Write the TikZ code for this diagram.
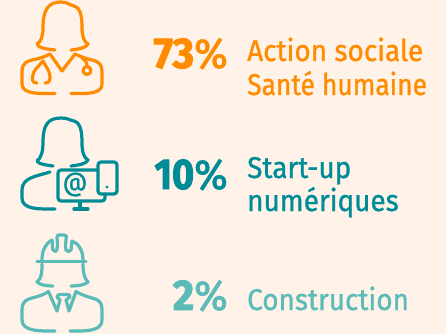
\documentclass[tikz,border=0pt]{standalone}
\usepackage{fontspec}
\newfontfamily\lab[FakeStretch=0.93,FakeBold=1.0]{Fira Sans}
\newfontfamily\labn[FakeStretch=0.88,FakeBold=1.0]{Fira Sans}
\newfontfamily\num[FakeStretch=0.96,FakeBold=2.2]{Fira Sans Bold}
\newfontfamily\numn[FakeStretch=0.88,FakeBold=2.2]{Fira Sans Bold}
\newfontfamily\pc[FakeStretch=0.97,FakeBold=1.6]{Fira Sans}
\newcommand{\bignum}[2]{{\fontsize{43}{43}\selectfont#1 #2}{\fontsize{42}{42}\selectfont\pc\%}}
\definecolor{bg}{HTML}{FFF2E9}
\definecolor{cA}{HTML}{FF8C00}
\definecolor{cB}{HTML}{008C96}
\definecolor{cC}{HTML}{5ABBB7}
\tikzset{
 icon/.style={line width=3.2pt,line cap=round,line join=round},
 big/.style={anchor=base east,inner sep=0pt},
 txt/.style={anchor=base west,inner sep=0pt,font=\fontsize{30}{30}\selectfont\lab}
}
\begin{document}
\begin{tikzpicture}[x=1pt,y=-1pt]
\useasboundingbox (0,0) rectangle (446,334);
\fill[bg] (0,0) rectangle (446,334);
% icon 1
\begin{scope}[icon,draw=cA,color=cA]
\draw (55,50) .. controls (46,49) and (38,48) .. (37,44) .. controls (41,42) and (43,36) .. (43,28)
 .. controls (43,10) and (48,2) .. (61,2) .. controls (68,2) and (69,5) .. (74,6) .. controls (81,8) and (82,18) .. (82,28)
 .. controls (82,36) and (84,42) .. (88,44) .. controls (86,48) and (79,49) .. (71,50);
\draw (55,93.5) .. controls (42,93.5) and (22,95) .. (22,84) -- (22,72) .. controls (22,62) and (28,61) .. (34,59.5) .. controls (42,58) and (46,56) .. (50,54)
 -- (62,71) -- (75,54) .. controls (79,56) and (84,58) .. (92,60) .. controls (100,62) and (102,65) .. (102,72) -- (102,84) .. controls (102,95) and (84,93.5) .. (71,93.5);
\draw (43,61) .. controls (38,67) and (33,70) .. (32.5,77) .. controls (32,81) and (33,83) .. (37,83);
\draw (43,61) .. controls (46,67) and (50,71) .. (50,77) .. controls (50,81) and (49,83) .. (45,83);
\draw (82,58) .. controls (85,60) and (87,62) .. (87,66);
\draw (87,70.5) circle (4);
\end{scope}
% icon 2
\begin{scope}[icon,draw=cB,color=cB]
\draw (53,166) .. controls (46,165) and (38,164) .. (37,161) .. controls (41,158) and (43,152) .. (43,142)
 .. controls (43,125) and (48,118) .. (61,118) .. controls (68,118) and (69,120) .. (74,121) .. controls (81,123) and (82,133) .. (82,143)
 .. controls (82,152) and (84,158) .. (88,160) .. controls (86,164) and (79,165) .. (71,166);
\draw (50,172) .. controls (38,176) and (22,177) .. (22,190) -- (22,198) .. controls (22,210) and (40,209) .. (55,209);
\draw[rounded corners=3] (97,170) -- (58,170) -- (58,201) -- (105,201) -- (105,194);
\draw[rounded corners=3] (98,162) rectangle (117,194);
\fill (107,187) circle (1.7);
\draw (80,202) -- (80,209);
\draw (74,209) -- (88,209);
\node[inner sep=0pt,font=\fontsize{26}{26}\selectfont\lab] (at) at (75,184.5) {@};
\end{scope}
% icon 3
\begin{scope}[icon,draw=cC,color=cC]
\draw (37,261.5) -- (86,261.5);
\draw (42,260) .. controls (42,251) and (45,244) .. (52,240) .. controls (53,244) and (52,248) .. (53,250) .. controls (54,252) and (57,252) .. (57,249)
 .. controls (58,245) and (57,240) .. (57,237) .. controls (57,235) and (58,235) .. (60,235) -- (64,235) .. controls (66,235) and (67,236) .. (66,239)
 .. controls (66,243) and (65,246) .. (66,250) .. controls (67,252) and (70,252) .. (71,250) .. controls (72,247) and (71,244) .. (72,241)
 .. controls (78,243) and (83,250) .. (83,260);
\draw (42,264) .. controls (42,272) and (42,278) .. (37,282) .. controls (40,285) and (47,286) .. (53,286);
\draw (83,264) .. controls (83,272) and (84,278) .. (88,282) .. controls (85,285) and (78,286) .. (71,286);
\draw (55,331) .. controls (42,331) and (22,332) .. (22,320) -- (22,310) .. controls (22,300) and (28,299) .. (34,297.5) .. controls (40,296) and (45,294) .. (48.5,291.5)
 -- (57,311) -- (60,300) -- (57,297) .. controls (57,295) and (59,294.5) .. (60,294.5) -- (67,294.5) .. controls (69,294.5) and (70,295) .. (70,297) -- (66,300) -- (69,311) -- (76,291.5) .. controls (80,294) and (85,296) .. (92,298) .. controls (100,300) and (102,303) .. (102,310) -- (102,320) .. controls (102,332) and (84,331) .. (70,331);
\end{scope}
\node[big,text=cA] (p1) at (228,68) {\bignum{\num}{73}};
\node[big,text=cB] (p2) at (228,189) {\bignum{\numn}{10}};
\node[big,text=cC] (p3) at (228,310) {\bignum{\num}{2}};
\node[txt,text=cA] (t1) at (247,61) {Action sociale};
\node[txt,text=cA,font=\fontsize{30}{30}\selectfont\labn] (t2) at (247,95) {Santé humaine};
\node[txt,text=cB] (t3) at (247,178) {Start-up};
\node[txt,text=cB] (t4) at (247,211) {numériques};
\node[txt,text=cC] (t5) at (247,310) {Construction};
\end{tikzpicture}
\end{document}
